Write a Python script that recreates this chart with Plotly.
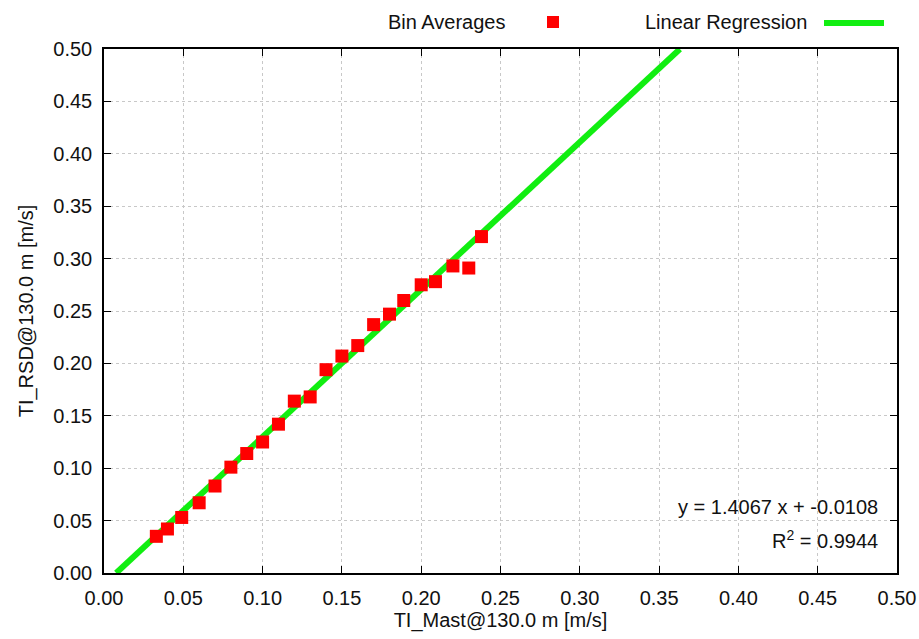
import plotly.graph_objects as go

# Bin averages
bin_x = [0.033, 0.040, 0.049, 0.060, 0.070, 0.080, 0.090, 0.100, 0.110, 0.120, 0.130,
         0.140, 0.150, 0.160, 0.170, 0.180, 0.189, 0.200, 0.209, 0.220, 0.230, 0.238]
bin_y = [0.035, 0.042, 0.053, 0.067, 0.083, 0.101, 0.114, 0.125, 0.142, 0.164, 0.168,
         0.194, 0.207, 0.217, 0.237, 0.247, 0.260, 0.275, 0.278, 0.293, 0.291, 0.321]

slope = 1.4067
intercept = -0.0108
r2 = 0.9944
line_x = [-intercept / slope, (0.5 - intercept) / slope]
line_y = [slope * v + intercept for v in line_x]

tick_vals = [0.00, 0.05, 0.10, 0.15, 0.20, 0.25, 0.30, 0.35, 0.40, 0.45, 0.50]
tick_text = ["%.2f" % v for v in tick_vals]

FONT = "Liberation Sans, Arial, sans-serif"
RED = "#ff0000"
GREEN = "#11ee11"
TXT = "#111"
FS = 20

L, R, T, B = 104, 22, 49, 66
PW = 919 - L - R
PH = 639 - T - B

fig = go.Figure()
fig.add_trace(go.Scatter(x=line_x, y=line_y, mode="lines", name="Linear Regression",
                         line=dict(color=GREEN, width=6), showlegend=False))
fig.add_trace(go.Scatter(x=bin_x, y=bin_y, mode="markers", name="Bin Averages",
                         marker=dict(symbol="square", size=13, color=RED), showlegend=False))

axis_common = dict(
    range=[0, 0.5], tickvals=tick_vals, ticktext=tick_text,
    showgrid=True, gridcolor="#c8c8c8", griddash="dot", gridwidth=1,
    showline=True, linecolor="black", linewidth=1.5, mirror="ticks",
    ticks="inside", ticklen=7, tickcolor="black", tickwidth=1,
    zeroline=False, tickfont=dict(family=FONT, size=FS, color=TXT),
    ticklabelstandoff=6,
)

fig.update_layout(
    width=919, height=639,
    margin=dict(l=L, r=R, t=T, b=B, autoexpand=False),
    paper_bgcolor="white", plot_bgcolor="white",
    font=dict(family=FONT, color=TXT),
    xaxis=dict(axis_common, title=dict(text="TI_Mast@130.0 m [m/s]",
                                       font=dict(family=FONT, size=FS), standoff=4)),
    yaxis=dict(axis_common, title=dict(text="TI_RSD@130.0 m [m/s]",
                                       font=dict(family=FONT, size=FS), standoff=14)),
    showlegend=False,
)

def px(xp):
    return (xp - L) / PW

def py(yp):
    return (639 - B - yp) / PH

# Custom legend (text left of symbol, as in the reference)
fig.add_annotation(xref="paper", yref="paper", x=px(508), y=py(22),
                   text="Bin Averages", showarrow=False, xanchor="right", yanchor="middle",
                   font=dict(family=FONT, size=FS, color=TXT))
fig.add_shape(type="rect", xref="paper", yref="paper",
              x0=px(547), x1=px(559), y0=py(28), y1=py(16),
              fillcolor=RED, line=dict(width=0))
fig.add_annotation(xref="paper", yref="paper", x=px(809), y=py(22),
                   text="Linear Regression", showarrow=False, xanchor="right", yanchor="middle",
                   font=dict(family=FONT, size=FS, color=TXT))
fig.add_shape(type="line", xref="paper", yref="paper",
              x0=px(824), x1=px(884), y0=py(23), y1=py(23),
              line=dict(color=GREEN, width=6))

# Regression text
fig.add_annotation(xref="paper", yref="paper", x=px(880), y=py(507),
                   text="y = %.4f x + %.4f" % (slope, intercept), showarrow=False,
                   xanchor="right", yanchor="middle",
                   font=dict(family=FONT, size=FS, color=TXT))
fig.add_annotation(xref="paper", yref="paper", x=px(880), y=py(539),
                   text="R<sup>2</sup> = %.4f" % r2, showarrow=False,
                   xanchor="right", yanchor="middle",
                   font=dict(family=FONT, size=FS, color=TXT))

fig.write_html("out.html", config={"displayModeBar": False},
               post_script="document.body.style.margin='0';")
